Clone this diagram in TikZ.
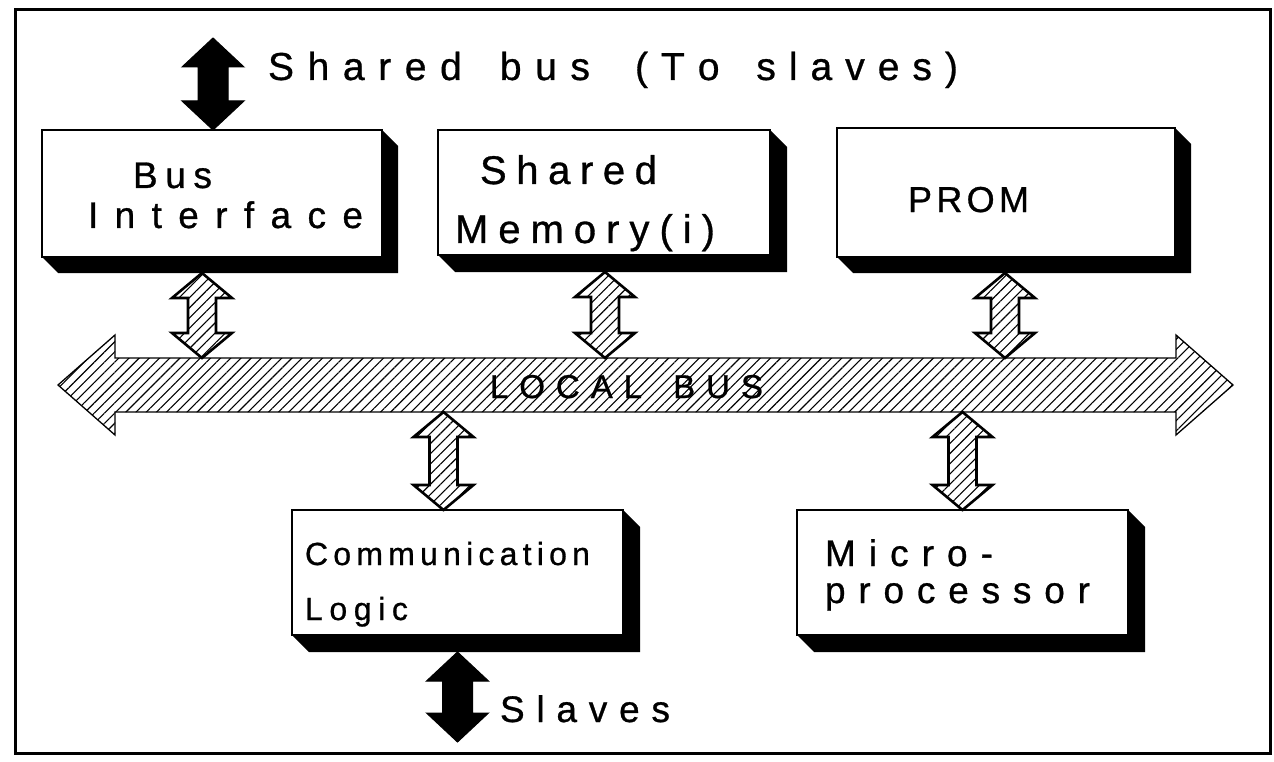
\documentclass[tikz,border=0pt]{standalone}
\usepackage{fontspec}
\setmainfont{Liberation Sans}[FakeBold=0.7, AutoFakeBold=false]
\newfontfamily\labelfont{Liberation Sans}[FakeBold=0.8]
\usetikzlibrary{calc,patterns.meta}

% Spread the letters of a word evenly over a given width (in pt)
\ExplSyntaxOn
\NewDocumentCommand\spreadtext{mm}{\hbox to #1pt{\str_map_inline:nn{#2}{##1\hfil}\unskip}}
\ExplSyntaxOff

% Black extruded side faces below and right of a box node
\newcommand\extrude[2]{%
  \fill[black] (#1.south west) -- ($(#1.south west)+(#2,#2)$) -- ($(#1.south east)+(#2,#2)$)
    -- ($(#1.north east)+(#2,#2)$) -- (#1.north east) -- (#1.south east) -- cycle;}

\newcommand\fs[1]{\labelfont\fontsize{#1}{#1}\selectfont}

\tikzset{
  unitbox/.style={draw, fill=white, line width=1.4pt, inner sep=0pt, outer sep=0pt},
  lbl/.style={anchor=base west, inner sep=0pt, outer sep=0pt},
  hatch/.style={pattern={Lines[angle=45, distance=7.2pt, line width=1.1pt]}},
  % vertical double-headed block arrow from \tikztostart (top) to \tikztotarget (bottom)
  % #1 head half width, #2 shaft half width, #3 head length
  vblock/.style n args={3}{to path={let \p1=(\tikztostart), \p2=(\tikztotarget) in
    (\x1,\y1) -- (\x1+#1pt,\y1-#3pt) -- (\x1+#2pt,\y1-#3pt) -- (\x1+#2pt,\y2+#3pt)
    -- (\x1+#1pt,\y2+#3pt) -- (\x1,\y2) -- (\x1-#1pt,\y2+#3pt) -- (\x1-#2pt,\y2+#3pt)
    -- (\x1-#2pt,\y1-#3pt) -- (\x1-#1pt,\y1-#3pt) -- cycle}},
  % horizontal double-headed block arrow for the bus
  hblock/.style n args={3}{to path={let \p1=(\tikztostart), \p2=(\tikztotarget) in
    (\x1,\y1) -- (\x1+#3pt,\y1+#1pt) -- (\x1+#3pt,\y1+#2pt) -- (\x2-#3pt,\y1+#2pt)
    -- (\x2-#3pt,\y1+#1pt) -- (\x2,\y1) -- (\x2-#3pt,\y1-#1pt) -- (\x2-#3pt,\y1-#2pt)
    -- (\x1+#3pt,\y1-#2pt) -- (\x1+#3pt,\y1-#1pt) -- cycle}},
  hatcharrow/.style={draw, line width=2.6pt, line join=miter, hatch, vblock={30}{14}{25}},
  solidarrow/.style={draw, fill=black, line width=1pt, vblock={31}{15}{29}},
}

\begin{document}
\begin{tikzpicture}[x=1pt, y=-1pt]
\useasboundingbox (0,0) rectangle (1274,762);
\fill[white] (0,0) rectangle (1274,762);
\draw[line width=3pt] (15,10) rectangle (1270,753);

% ---- boxes ----
\node[unitbox, minimum width=340pt, minimum height=127pt] (bi)   at (212,193.5) {};
\node[unitbox, minimum width=332pt, minimum height=125pt] (sm)   at (604,192.5) {};
\node[unitbox, minimum width=338pt, minimum height=129pt] (prom) at (1006,192.5) {};
\node[unitbox, minimum width=331pt, minimum height=125pt] (cl)   at (457.5,572.5) {};
\node[unitbox, minimum width=331pt, minimum height=125pt] (mp)   at (962.5,572.5) {};
\extrude{bi}{16}
\extrude{sm}{17}
\extrude{prom}{16}
\extrude{cl}{17}
\extrude{mp}{17}

% ---- local bus ----
\coordinate (busL) at (58,385);
\coordinate (busR) at (1233,385);
\draw[line width=1.3pt, hatch] (busL) to[hblock={50}{27}{57}] (busR);
\node[inner sep=0pt, outer sep=0pt, minimum width=1062pt, minimum height=54pt] (bus) at (646,385) {};
\node[lbl, font=\fs{33}] (buslbl) at (490,398) {\spreadtext{273}{LOCAL BUS}};

% ---- links between boxes and bus ----
\coordinate (biA)   at ($(bi.south)+(-10,16)$);
\coordinate (smA)   at ($(sm.south)+(1,17)$);
\coordinate (promA) at ($(prom.south)+(-1,16)$);
\coordinate (clA)   at ($(cl.north)+(-14,0)$);
\path[hatcharrow] (biA) to (bus.north -| biA);
\path[hatcharrow] (smA) to (bus.north -| smA);
\path[hatcharrow] (promA) to (bus.north -| promA);
\path[hatcharrow] (bus.south -| clA) to (clA);
\path[hatcharrow] (bus.south -| mp.north) to (mp.north);

% ---- external links ----
\coordinate (shbus) at (213,38);
\coordinate (clB) at ($(cl.south)+(0,17)$);
\coordinate (slv) at (458,742);
\path[solidarrow] (shbus) to (bi.north -| shbus);
\path[solidarrow] (clB) to (clB |- slv);

% ---- labels ----
\node[lbl, font=\fs{39}] (t1) at (268,80) {\spreadtext{322}{Shared bus}};
\node[lbl, font=\fs{39}] (t2) at (635,80) {\spreadtext{323}{(To slaves)}};
\node[lbl, font=\fs{37}] (t3) at (133,188) {\spreadtext{79}{Bus}};
\node[lbl, font=\fs{37}] (t4) at (88,228) {\spreadtext{275}{Interface}};
\node[lbl, font=\fs{40}] (t5) at (480,184) {\spreadtext{177}{Shared}};
\node[lbl, font=\fs{40}] (t6) at (455,243) {\spreadtext{260}{Memory(i)}};
\node[lbl, font=\fs{36}] (t7) at (908,212) {\spreadtext{121}{PROM}};
\node[lbl, font=\fs{32}] (t8) at (305,565) {\spreadtext{285}{Communication}};
\node[lbl, font=\fs{32}] (t9) at (305,620) {\spreadtext{103}{Logic}};
\node[lbl, font=\fs{37}] (t10) at (825,566) {\spreadtext{168}{Micro-}};
\node[lbl, font=\fs{37}] (t11) at (825,603) {\spreadtext{265}{processor}};
\node[lbl, font=\fs{37}] (t12) at (500,722) {\spreadtext{170}{Slaves}};
\end{tikzpicture}
\end{document}
